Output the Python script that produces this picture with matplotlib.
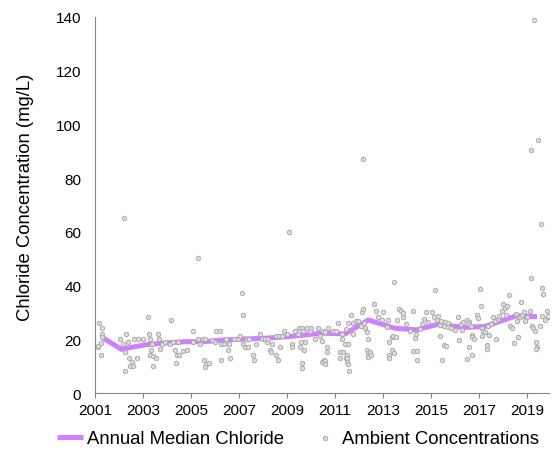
import matplotlib
matplotlib.use("Agg")
import matplotlib.pyplot as plt

plt.rcParams['font.family'] = ['Liberation Sans', 'DejaVu Sans']

# annual median chloride (mg/L)
median_year = [2001.3, 2002.1, 2003.05, 2003.9, 2004.75, 2005.6, 2006.25, 2007.22, 2008.08,
               2009.05, 2010.5, 2011.42, 2012.39, 2013.5, 2014.4, 2015.3, 2016.4, 2017.25,
               2018.55, 2019.42]
median_value = [20.7, 16.3, 17.9, 18.6, 19.1, 19.1, 19.7, 20.1, 20.4,
                21.0, 22.3, 22.0, 27.2, 24.1, 23.5, 25.6, 24.4, 24.8,
                28.7, 28.4]

# individual samples
amb_year = [
    2001.18, 2001.28, 2001.28, 2001.29, 2001.25, 2001.14, 2001.24, 2001.11,
    2002.04, 2002.28, 2002.18, 2002.25, 2002.39, 2002.24, 2002.43, 2002.53, 2002.46, 2002.60,
    2002.74, 2002.63, 2002.80, 2002.20,
    2003.01, 2003.20, 2003.26, 2003.29, 2003.36, 2003.33, 2003.29, 2003.43, 2003.53, 2003.43,
    2003.64, 2003.68, 2003.78, 2003.71, 2003.92,
    2004.15, 2004.13, 2004.26, 2004.33, 2004.43, 2004.38, 2004.51, 2004.47, 2004.68, 2004.82,
    2005.07, 2005.10, 2005.30, 2005.37, 2005.51, 2005.54, 2005.63, 2005.30, 2005.58, 2005.58,
    2005.75, 2005.88, 2006.00,
    2006.03, 2006.21, 2006.25, 2006.39, 2006.45, 2006.56, 2006.24, 2006.63, 2006.60, 2006.80,
    2006.97,
    2007.04, 2007.11, 2007.15, 2007.15, 2007.25, 2007.36, 2007.32, 2007.43, 2007.57, 2007.63,
    2007.70, 2007.88, 2007.97,
    2008.08, 2008.15, 2008.22, 2008.29, 2008.33, 2008.36, 2008.53, 2008.61, 2008.53, 2008.71,
    2008.67, 2008.80, 2008.88, 2008.99,
    2009.08, 2009.22, 2009.22, 2009.33, 2009.50, 2009.64, 2009.68, 2009.47, 2009.58, 2009.75,
    2009.54, 2009.72, 2009.61, 2009.61, 2009.82, 2009.96,
    2010.00, 2010.17, 2010.31, 2010.38, 2010.51, 2010.44, 2010.55, 2010.49, 2010.72, 2010.90,
    2010.58, 2010.44, 2010.68, 2010.65, 2010.58, 2010.58,
    2011.04, 2011.14, 2011.28, 2011.28, 2011.42, 2011.55, 2011.21, 2011.35, 2011.21, 2011.49,
    2011.46, 2011.51, 2011.49, 2011.55, 2011.58, 2011.46, 2011.65, 2011.55, 2011.74, 2011.76,
    2011.88, 2011.97,
    2012.08, 2012.11, 2012.15, 2012.17, 2012.21, 2012.25, 2012.32, 2012.39, 2012.32, 2012.36,
    2012.46, 2012.39, 2012.49, 2012.63, 2012.71, 2012.80, 2012.94,
    2013.01, 2013.15, 2013.22, 2013.26, 2013.36, 2013.43, 2013.54, 2013.46, 2013.36, 2013.46,
    2013.25, 2013.25, 2013.60, 2013.68, 2013.74, 2013.85, 2013.82, 2013.96,
    2014.13, 2014.26, 2014.38, 2014.33, 2014.26, 2014.40, 2014.43, 2014.54, 2014.61, 2014.71,
    2014.79, 2014.89,
    2015.03, 2015.17, 2015.13, 2015.24, 2015.30, 2015.37, 2015.43, 2015.57, 2015.71, 2015.53,
    2015.71, 2015.36, 2015.53, 2015.61, 2015.47, 2015.85, 2015.99,
    2016.11, 2016.17, 2016.25, 2016.35, 2016.30, 2016.49, 2016.57, 2016.60, 2016.67, 2016.58,
    2016.49, 2016.70, 2016.72, 2016.72, 2016.80, 2016.90, 2016.97,
    2017.04, 2017.08, 2017.11, 2017.14, 2017.18, 2017.25, 2017.32, 2017.32, 2017.39, 2017.42,
    2017.50, 2017.60, 2017.67, 2017.71, 2017.78, 2017.83, 2017.95,
    2018.01, 2018.08, 2018.15, 2018.11, 2018.25, 2018.29, 2018.39, 2018.47, 2018.61, 2018.57,
    2018.53, 2018.75, 2018.71, 2018.81, 2018.89, 2018.92, 2018.99,
    2019.12, 2019.17, 2019.20, 2019.26, 2019.33, 2019.36, 2019.40, 2019.36, 2019.54, 2019.61,
    2019.68, 2019.61, 2019.75, 2019.84, 2019.88, 2019.90, 2019.29, 2019.45, 2019.17, 2019.58,
]
amb_value = [
    26.1, 24.2, 22.0, 21.0, 18.6, 17.0, 14.1, 17.5,
    20.1, 22.0, 18.2, 15.4, 19.1, 8.2, 12.9, 11.7, 9.9, 9.9,
    12.9, 20.1, 20.1, 65.0,
    20.1, 28.3, 22.0, 20.1, 18.2, 16.0, 14.1, 13.9, 12.9, 9.9,
    22.0, 20.1, 18.2, 16.4, 19.1,
    27.2, 18.2, 19.1, 16.0, 14.1, 11.2, 14.1, 19.1, 15.7, 16.0,
    23.1, 19.1, 20.1, 18.2, 20.1, 12.4, 10.8, 50.3, 20.1, 9.6,
    11.1, 19.6, 19.1,
    23.1, 23.1, 18.2, 18.2, 20.1, 16.0, 12.3, 13.0, 18.2, 20.1,
    20.1,
    21.1, 37.2, 29.0, 18.2, 17.0, 17.0, 20.1, 20.1, 14.1, 12.4,
    18.2, 22.0, 20.1,
    20.1, 19.1, 20.1, 16.0, 15.1, 18.2, 14.1, 12.4, 21.1, 17.0,
    21.1, 21.1, 23.1, 22.0,
    60.0, 18.2, 17.0, 23.1, 24.1, 24.1, 23.1, 22.0, 19.1, 19.1,
    17.0, 16.0, 11.1, 9.3, 24.1, 23.1,
    24.1, 20.1, 24.1, 21.1, 22.6, 11.4, 12.4, 23.2, 24.1, 23.2,
    22.6, 19.5, 17.0, 15.4, 12.0, 10.8,
    23.2, 26.1, 22.0, 20.1, 18.2, 18.2, 15.4, 15.4, 12.9, 14.1,
    12.9, 12.9, 11.4, 10.8, 8.1, 23.8, 29.0, 26.1, 22.0, 26.1,
    26.9, 26.9,
    25.0, 30.0, 31.3, 87.1, 26.1, 24.1, 22.8, 20.1, 16.1, 14.9,
    15.4, 13.3, 14.1, 33.1, 30.6, 28.2, 27.3,
    30.3, 24.5, 27.3, 18.9, 20.7, 21.1, 20.7, 41.4, 16.1, 14.9,
    14.1, 12.9, 27.3, 31.3, 30.6, 28.2, 29.8, 25.7,
    23.2, 30.6, 22.0, 20.4, 15.7, 15.7, 12.3, 23.8, 25.7, 27.5,
    30.0, 26.3,
    30.3, 38.5, 28.2, 27.3, 28.8, 25.3, 26.9, 26.5, 26.1, 25.0,
    24.5, 21.1, 17.9, 17.4, 12.3, 24.1, 23.6,
    28.2, 19.8, 25.7, 26.5, 23.6, 27.3, 26.5, 25.7, 24.8, 17.0,
    12.7, 21.6, 20.7, 14.1, 20.1, 29.0, 27.8,
    38.7, 32.5, 24.1, 21.1, 23.2, 22.6, 17.9, 16.4, 24.8, 21.6,
    25.7, 28.2, 26.9, 20.1, 27.5, 28.8, 30.6,
    33.1, 31.5, 32.3, 29.0, 36.5, 24.8, 24.1, 18.6, 20.7, 26.9,
    29.4, 33.8, 28.2, 29.0, 30.3, 26.9, 28.2,
    30.6, 42.7, 24.8, 24.1, 23.2, 18.9, 17.0, 16.4, 24.8, 39.0,
    36.9, 28.8, 27.3, 30.6, 28.2, 28.8, 139.0, 94.3, 90.6, 62.9,
]

year_ticks = [2001, 2003, 2005, 2007, 2009, 2011, 2013, 2015, 2017, 2019]

fig = plt.figure(figsize=(5.57, 4.52), dpi=100)
ax = fig.add_axes([0.1706, 0.1283, 0.815, 0.8319])

ax.plot(median_year, median_value, color='#CF7FFF', lw=3.6, solid_joinstyle='round',
        solid_capstyle='butt', zorder=2, label='Annual Median Chloride')
ax.scatter(amb_year, amb_value, s=10, facecolor='#DEDEDE', edgecolor='#ABABAB',
           linewidths=0.7, zorder=3, label='Ambient Concentrations')

ax.set_xlim(2001, 2019.92)
ax.set_ylim(0, 140)
ax.set_xticks(year_ticks)
ax.set_xticklabels([str(y) for y in year_ticks])
ax.set_yticks(range(0, 141, 20))

for side in ['top', 'right']:
    ax.spines[side].set_visible(False)
for side in ['left', 'bottom']:
    ax.spines[side].set_color('#868686')
    ax.spines[side].set_linewidth(0.8)

ax.tick_params(axis='x', direction='out', length=3.5, width=0.8, color='#868686',
               labelsize=11, pad=4)
ax.tick_params(axis='y', length=0, labelsize=11, pad=10)
ax.set_ylabel('Chloride Concentration (mg/L)', fontsize=13.3)
ax.yaxis.set_label_coords(-0.134, 0.523)

fig.legend(loc='center', bbox_to_anchor=(0.535, 0.027), ncol=2, frameon=False,
           fontsize=13.3, handlelength=1.45, handletextpad=0.2, columnspacing=1.5,
           borderaxespad=0, borderpad=0, markerscale=1.0)

fig.savefig('out.png', dpi=100)
